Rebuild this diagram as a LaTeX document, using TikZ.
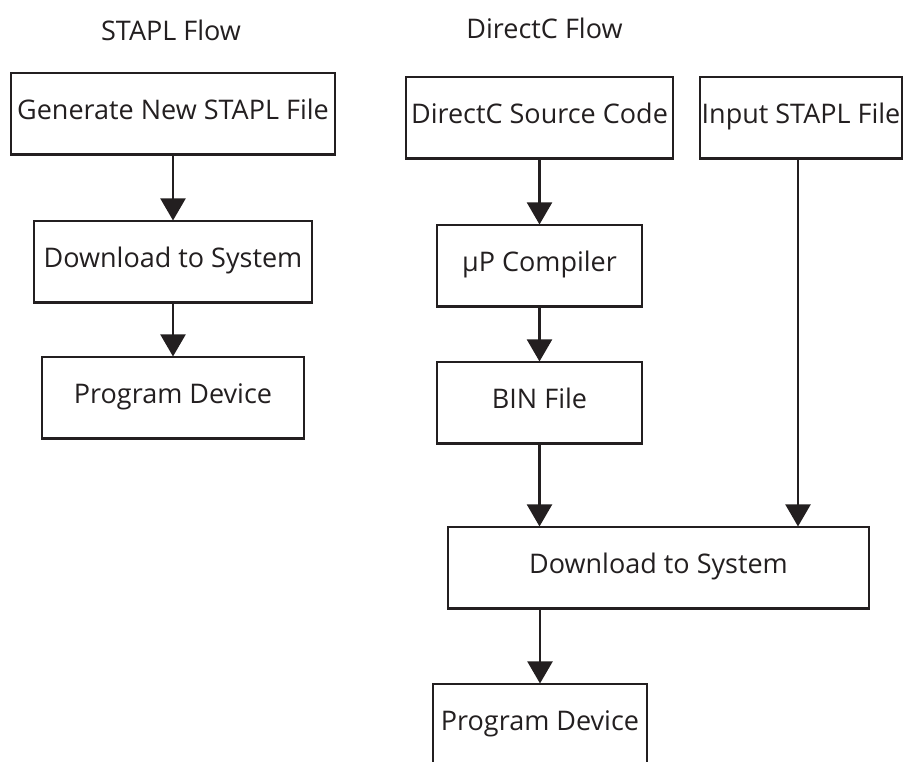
\documentclass[tikz,border=0pt]{standalone}
\usepackage{fontspec}
\setmainfont{Open Sans}
\usetikzlibrary{arrows.meta}
\definecolor{ink}{HTML}{231F20}
\begin{document}
\begin{tikzpicture}[x=1pt,y=-1pt,
  every node/.style={font=\fontsize{27}{31}\selectfont, text=ink},
  flowbox/.style={draw=ink, line width=2.1pt, inner sep=0pt, anchor=base,
    text height=46pt, text depth=35.5pt},
  title/.style={anchor=base, inner sep=0pt},
  flowarrow/.style={draw=ink, line width=2.1pt, -{Triangle[length=22pt,width=25pt]}, shorten >=-0.5pt}
]
\clip (0,0) rectangle (904,761);
\fill[white] (0,0) rectangle (904,761);

% titles
\node[title] (t1) at (171,40) {STAPL Flow};
\node[title] (t2) at (544.5,38) {DirectC Flow};

% STAPL flow
\node[flowbox, minimum width=324pt] (gen) at (173,119) {Generate New STAPL File};
\node[flowbox, minimum width=278pt] (dl1) at (173,267) {Download to System};
\node[flowbox, minimum width=262pt] (pd1) at (173,403) {Program Device};

% DirectC flow
\node[flowbox, minimum width=267pt] (dcs) at (539.5,123) {DirectC Source Code};
\node[flowbox, minimum width=202pt] (inp) at (801,123) {Input STAPL File};
\node[flowbox, minimum width=205pt] (mup) at (539.5,271) {μP Compiler};
\node[flowbox, minimum width=205pt] (bin) at (539.5,408) {BIN File};
\node[flowbox, minimum width=421pt] (dl2) at (658.5,573) {Download to System};
\node[flowbox, minimum width=214pt] (pd2) at (540,730) {Program Device};

% connectors
\draw[flowarrow] (gen.south) -- (dl1.north);
\draw[flowarrow] (dl1.south) -- (pd1.north);
\draw[flowarrow] (dcs.south) -- (mup.north);
\draw[flowarrow] (mup.south) -- (bin.north);
\draw[flowarrow] (bin.south) -- (bin.south |- dl2.north);
\draw[flowarrow] ([xshift=-3pt]inp.south) -- ([xshift=-3pt]inp.south |- dl2.north);
\draw[flowarrow] (pd2.north |- dl2.south) -- (pd2.north);
\end{tikzpicture}
\end{document}
